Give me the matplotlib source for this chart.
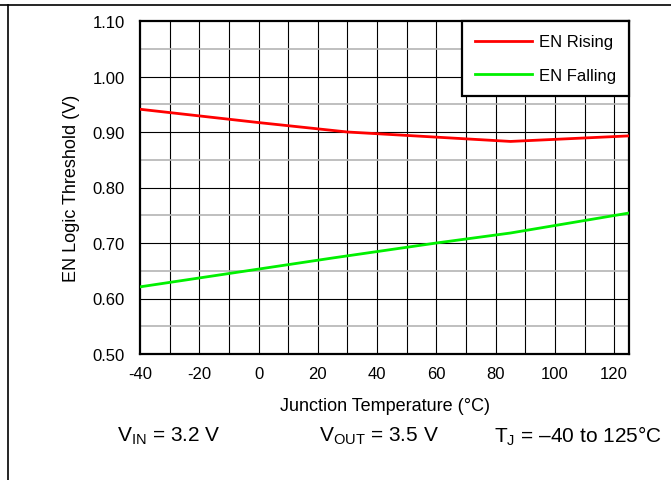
import numpy as np
import matplotlib
matplotlib.use('Agg')
import matplotlib.pyplot as plt
from matplotlib.lines import Line2D

plt.rcParams['font.family'] = ['Liberation Sans', 'DejaVu Sans']
plt.rcParams['mathtext.fontset'] = 'custom'
plt.rcParams['mathtext.rm'] = 'Liberation Sans'
plt.rcParams['mathtext.default'] = 'regular'
plt.rcParams['axes.unicode_minus'] = False

# data
temp_rise = [-40, 0, 30, 85, 125]
en_rising = [0.941, 0.917, 0.900, 0.883, 0.893]
temp_fall = [-40, 0, 25, 60, 85, 125]
en_falling = [0.621, 0.653, 0.673, 0.700, 0.718, 0.754]

x_ticks = [-40, -20, 0, 20, 40, 60, 80, 100, 120]
y_ticks = [0.50, 0.60, 0.70, 0.80, 0.90, 1.00, 1.10]

fig = plt.figure(figsize=(6.71, 4.81), dpi=100)
ax = fig.add_axes([140/671, 1 - 355/481, 489/671, 333/481])

# grid
for t in np.arange(-30, 125, 10):
    ax.axvline(t, color='black', lw=0.8, zorder=1)
for v in np.arange(0.55, 1.10, 0.1):
    ax.axhline(v, color='#b4b4b4', lw=1.2, zorder=1)
for v in y_ticks[1:-1]:
    ax.axhline(v, color='black', lw=0.8, zorder=1)

ax.plot(temp_rise, en_rising, color='#ff0000', lw=2, label='EN Rising', zorder=3)
ax.plot(temp_fall, en_falling, color='#00f000', lw=2, label='EN Falling', zorder=3)

ax.set_xlim(-40, 125)
ax.set_ylim(0.5, 1.1)
ax.set_xticks(x_ticks)
ax.set_yticks(y_ticks)
ax.set_yticklabels(['%.2f' % v for v in y_ticks])
ax.tick_params(length=0, labelsize=12)
ax.tick_params(axis='y', pad=11)
ax.tick_params(axis='x', pad=9)
for s in ax.spines.values():
    s.set_linewidth(1.6)

ax.set_xlabel('Junction Temperature (°C)', fontsize=13, va='center')
ax.set_ylabel('EN Logic Threshold (V)', fontsize=13, va='center')
ax.xaxis.set_label_coords(0.5, (355 - 407) / 333)
ax.yaxis.set_label_coords((72 - 140) / 489, 0.5)

leg = ax.legend(loc='upper right', fontsize=12, fancybox=False, framealpha=1,
                edgecolor='black', borderaxespad=0, handlelength=3.4,
                labelspacing=1.1, borderpad=0.8, handletextpad=0.4)
leg.get_frame().set_linewidth(1.6)

fig.text(117/671, 1 - 436/481, r'V$_{IN}$ = 3.2 V', fontsize=15, va='center')
fig.text(319/671, 1 - 436/481, r'V$_{OUT}$ = 3.5 V', fontsize=15, va='center')
fig.text(494/671, 1 - 436/481, r'T$_{J}$ = ' + '\u201340 to 125°C', fontsize=15, va='center')

# page border lines
fig.add_artist(Line2D([0, 1], [1 - 6/481, 1 - 6/481], color='black', lw=1.2))
fig.add_artist(Line2D([8/671, 8/671], [0, 1 - 6/481], color='black', lw=1.2))

fig.savefig('out.png', dpi=100)
